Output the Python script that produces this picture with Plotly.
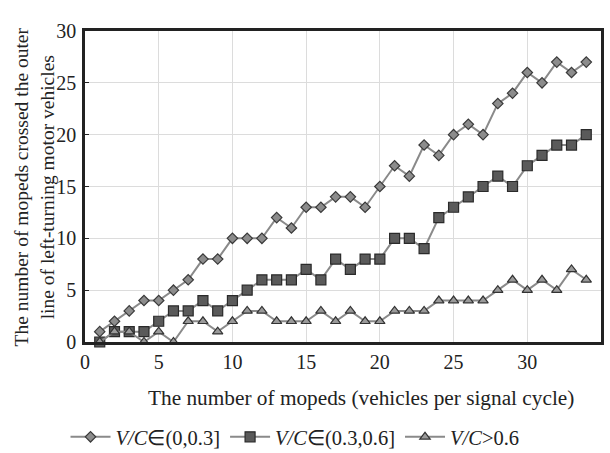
import plotly.graph_objects as go

x_vals = list(range(1, 35))
low_vc = [1, 2, 3, 4, 4, 5, 6, 8, 8, 10, 10, 10, 12, 11, 13, 13, 14, 14, 13, 15,
          17, 16, 19, 18, 20, 21, 20, 23, 24, 26, 25, 27, 26, 27]
mid_vc = [0, 1, 1, 1, 2, 3, 3, 4, 3, 4, 5, 6, 6, 6, 7, 6, 8, 7, 8, 8,
          10, 10, 9, 12, 13, 14, 15, 16, 15, 17, 18, 19, 19, 20]
high_vc = [0, 1, 1, 0, 1, 0, 2, 2, 1, 2, 3, 3, 2, 2, 2, 3, 2, 3, 2, 2,
           3, 3, 3, 4, 4, 4, 4, 5, 6, 5, 6, 5, 7, 6]
series_names = ["<i>V/C</i>∈(0,0.3]", "<i>V/C</i>∈(0.3,0.6]", "<i>V/C</i>>0.6"]
x_ticks = [0, 5, 10, 15, 20, 25, 30, 35]
y_ticks = [0, 5, 10, 15, 20, 25, 30]

FONT = "Liberation Serif, Times New Roman, serif"
LINE = "#8a8a8a"

fig = go.Figure()
fig.add_trace(go.Scatter(
    x=x_vals, y=low_vc, name=series_names[0], mode="lines+markers",
    line=dict(color=LINE, width=2),
    marker=dict(symbol="diamond", size=8, color="#8c8c8c",
                line=dict(color="#3a3a3a", width=1.2)),
    cliponaxis=False))
fig.add_trace(go.Scatter(
    x=x_vals, y=mid_vc, name=series_names[1], mode="lines+markers",
    line=dict(color=LINE, width=2),
    marker=dict(symbol="square", size=10, color="#5a5a5a",
                line=dict(color="#2a2a2a", width=1.2)),
    cliponaxis=False))
fig.add_trace(go.Scatter(
    x=x_vals, y=high_vc, name=series_names[2], mode="lines+markers",
    line=dict(color=LINE, width=2),
    marker=dict(symbol="triangle-up", size=9, color="#9a9a9a",
                line=dict(color="#333333", width=1.2)),
    cliponaxis=False))

fig.update_layout(
    width=610, height=453,
    margin=dict(l=85, r=9, t=31, b=111, autoexpand=False),
    paper_bgcolor="white", plot_bgcolor="white",
    font=dict(family=FONT, size=20, color="#222"),
    showlegend=True,
    legend=dict(orientation="h", x=0.407, xanchor="center", y=-0.3055,
                yanchor="middle", font=dict(family=FONT, size=20.5, color="#222"),
                itemwidth=40, tracegroupgap=0, bgcolor="rgba(0,0,0,0)"),
    annotations=[
        dict(text="The number of mopeds crossed the outer<br>line of left-turning motor vehicles",
             xref="paper", yref="paper", x=-0.099, y=0.5, xanchor="center",
             yanchor="middle", textangle=-90, showarrow=False,
             font=dict(family=FONT, size=19.5, color="#222")),
        dict(text="The number of mopeds (vehicles per signal cycle)",
             xref="paper", yref="paper", x=0.535, y=0, yshift=-56,
             xanchor="center", yanchor="middle", showarrow=False,
             font=dict(family=FONT, size=21.3, color="#222")),
    ],
)
fig.update_xaxes(range=[0, 35], tickvals=x_ticks, showgrid=True, gridcolor="#dcdcdc",
                 gridwidth=1, showline=True, linecolor="#222", linewidth=2.5,
                 mirror=True, ticks="", zeroline=False,
                 tickfont=dict(family=FONT, size=20, color="#222"))
fig.update_yaxes(range=[0, 30], tickvals=y_ticks, showgrid=True, gridcolor="#dcdcdc",
                 gridwidth=1, showline=True, linecolor="#222", linewidth=2.5,
                 mirror=True, ticks="inside", ticklen=4, tickcolor="#222",
                 zeroline=False, ticklabelstandoff=2,
                 tickfont=dict(family=FONT, size=20, color="#222"))

fig.write_html("out.html")
